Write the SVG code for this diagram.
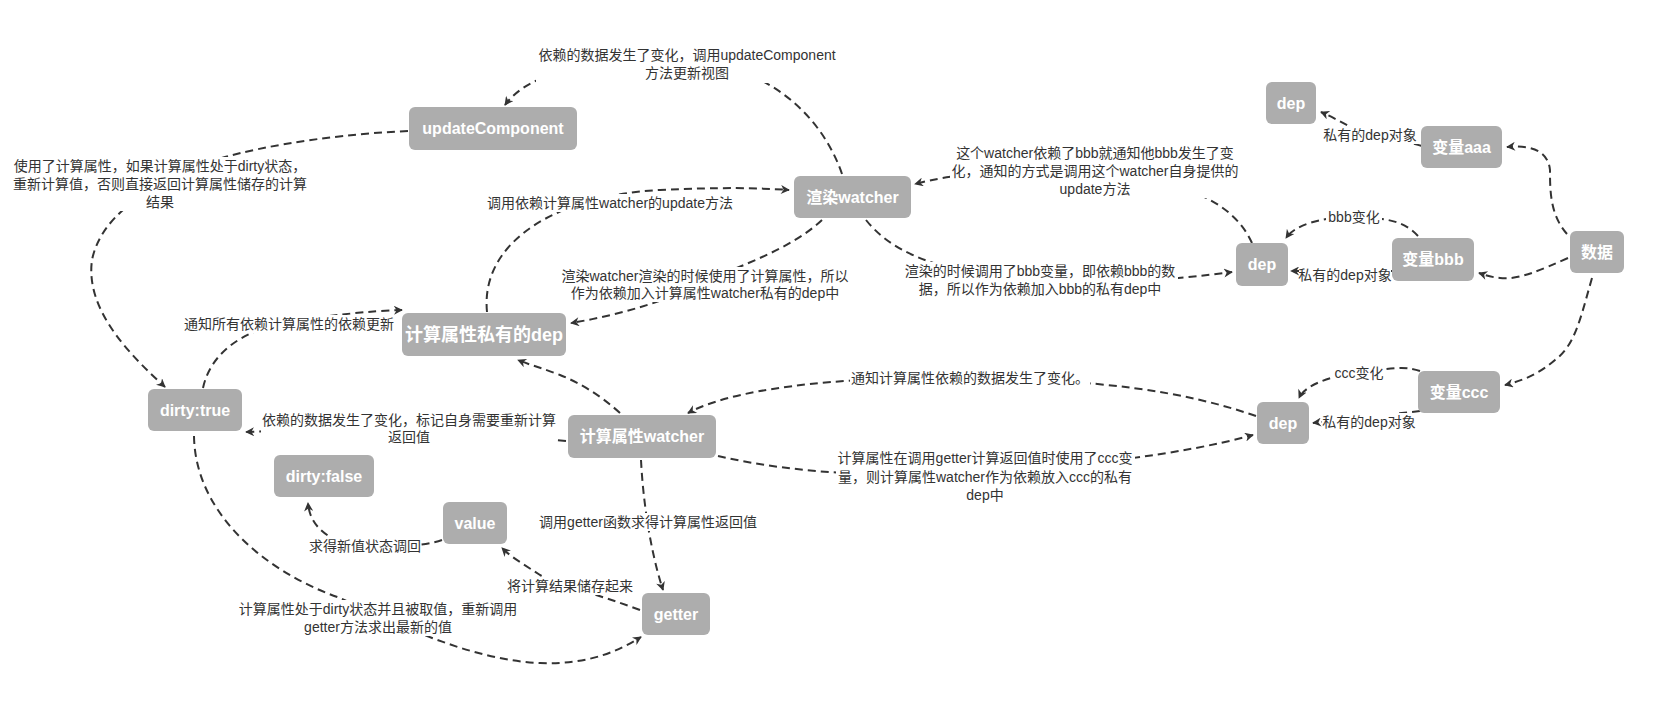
<svg xmlns="http://www.w3.org/2000/svg" width="1669" height="711" viewBox="0 0 1669 711">
<defs>
<marker id="arr" viewBox="0 0 10 10" refX="9" refY="5" markerWidth="10" markerHeight="9" markerUnits="userSpaceOnUse" orient="auto">
<path d="M0,0 L10,5 L0,10 L3,5 z" fill="#333"/>
</marker>
<style>
.n rect{fill:#adadad;}
.n text{fill:#fff;font-family:"Liberation Sans","Noto Sans CJK SC",sans-serif;font-weight:bold;font-size:16px;text-anchor:middle;}
.e path{fill:none;stroke:#333;stroke-width:2;stroke-dasharray:8 5;marker-end:url(#arr);}
.l rect{fill:#fff;}
.l text{fill:#333;font-family:"Liberation Sans","Noto Sans CJK SC",sans-serif;font-size:14px;text-anchor:middle;}
</style>
</defs>
<rect width="1669" height="711" fill="#fff"/>
<g id="connectors" class="e">
<path d="M842,174 C820,110 760,62 680,60 C600,58 530,70 505,105"/>
<path d="M487,312 C480,240 560,195 660,190 C720,187 760,188 789,190"/>
<path d="M822,220 C790,250 740,265 705,282 C670,300 620,315 571,323"/>
<path d="M1252,243 C1235,205 1190,180 1095,172 C1000,168 950,175 915,184"/>
<path d="M866,220 C890,250 930,268 1000,277 C1100,287 1170,280 1232,272"/>
<path d="M1567,234 C1550,215 1550,190 1550,170 C1548,150 1530,145 1507,147"/>
<path d="M1568,258 C1540,270 1520,280 1500,278 C1490,277 1485,275 1479,273"/>
<path d="M1418,236 C1405,222 1390,218 1355,217 C1320,217 1295,225 1286,238"/>
<path d="M1392,271 L1291,271"/>
<path d="M1422,146 C1400,140 1385,138 1370,135 C1350,128 1335,118 1321,112"/>
<path d="M1592,278 C1580,320 1575,345 1555,360 C1540,373 1525,380 1505,385"/>
<path d="M1420,371 C1405,366 1395,368 1360,372 C1330,376 1305,385 1299,398"/>
<path d="M1420,411 L1313,423"/>
<path d="M1256,416 C1180,390 1100,380 970,378 C830,376 730,390 688,413"/>
<path d="M718,456 C800,475 900,478 985,472 C1080,466 1180,455 1253,435"/>
<path d="M620,413 C600,395 580,383 560,375 C545,369 530,365 518,360"/>
<path d="M566,441 Q400,426 246,432"/>
<path d="M203,388 C210,355 240,330 290,322 C330,315 370,311 402,310"/>
<path d="M408,131 C320,135 240,150 200,165 C140,190 100,220 92,260 C85,310 130,355 165,387"/>
<path d="M194,436 C195,510 260,570 340,598 C400,625 470,660 540,663 C590,665 620,650 641,637"/>
<path d="M641,460 C643,500 650,550 663,590"/>
<path d="M640,610 C600,595 560,585 540,575 C525,565 512,558 502,548"/>
<path d="M442,540 C425,546 395,547 365,546 C335,545 310,530 308,503"/>
</g>
<g id="labels" class="l">
<rect x="536" y="45" width="302" height="38"/>
<text x="687" y="60">依赖的数据发生了变化，调用updateComponent</text>
<text x="687" y="78">方法更新视图</text>
<rect x="485" y="194" width="251" height="18"/>
<text x="610" y="208">调用依赖计算属性watcher的update方法</text>
<rect x="560" y="267" width="290" height="35"/>
<text x="705" y="281">渲染watcher渲染的时候使用了计算属性，所以</text>
<text x="705" y="298">作为依赖加入计算属性watcher私有的dep中</text>
<rect x="950" y="144" width="290" height="54"/>
<text x="1095" y="158">这个watcher依赖了bbb就通知他bbb发生了变</text>
<text x="1095" y="176">化，通知的方式是调用这个watcher自身提供的</text>
<text x="1095" y="194">update方法</text>
<rect x="902" y="262" width="276" height="36"/>
<text x="1040" y="276">渲染的时候调用了bbb变量，即依赖bbb的数</text>
<text x="1040" y="294">据，所以作为依赖加入bbb的私有dep中</text>
<rect x="1323" y="126" width="95" height="18"/>
<text x="1370" y="140">私有的dep对象</text>
<rect x="1326" y="208" width="56" height="18"/>
<text x="1354" y="222">bbb变化</text>
<rect x="1299" y="266" width="92" height="18"/>
<text x="1345" y="280">私有的dep对象</text>
<rect x="1332" y="364" width="54" height="18"/>
<text x="1359" y="378">ccc变化</text>
<rect x="1322" y="413" width="94" height="18"/>
<text x="1369" y="427">私有的dep对象</text>
<rect x="850" y="369" width="240" height="18"/>
<text x="970" y="383">通知计算属性依赖的数据发生了变化。</text>
<rect x="836" y="449" width="299" height="55"/>
<text x="985" y="463">计算属性在调用getter计算返回值时使用了ccc变</text>
<text x="985" y="482">量，则计算属性watcher作为依赖放入ccc的私有</text>
<text x="985" y="500">dep中</text>
<rect x="261" y="411" width="296" height="35"/>
<text x="409" y="425">依赖的数据发生了变化，标记自身需要重新计算</text>
<text x="409" y="442">返回值</text>
<rect x="183" y="315" width="212" height="18"/>
<text x="289" y="329">通知所有依赖计算属性的依赖更新</text>
<rect x="12" y="157" width="296" height="54"/>
<text x="160" y="171">使用了计算属性，如果计算属性处于dirty状态，</text>
<text x="160" y="189">重新计算值，否则直接返回计算属性储存的计算</text>
<text x="160" y="207">结果</text>
<rect x="237" y="600" width="282" height="36"/>
<text x="378" y="614">计算属性处于dirty状态并且被取值，重新调用</text>
<text x="378" y="632">getter方法求出最新的值</text>
<rect x="538" y="513" width="220" height="18"/>
<text x="648" y="527">调用getter函数求得计算属性返回值</text>
<rect x="507" y="577" width="126" height="18"/>
<text x="570" y="591">将计算结果储存起来</text>
<rect x="309" y="537" width="112" height="18"/>
<text x="365" y="551">求得新值状态调回</text>
</g>
<g id="n-updateComponent" class="n"><rect x="409" y="107" width="168" height="43" rx="6"/><text x="493" y="134">updateComponent</text></g>
<g id="n-render-watcher" class="n"><rect x="794" y="176" width="117" height="42" rx="6"/><text x="852.5" y="203">渲染watcher</text></g>
<g id="n-computed-dep" class="n"><rect x="402" y="313" width="164" height="43" rx="6"/><text x="484" y="341" style="font-size:18px">计算属性私有的dep</text></g>
<g id="n-dirty-true" class="n"><rect x="148" y="389" width="94" height="42" rx="6"/><text x="195" y="416">dirty:true</text></g>
<g id="n-computed-watcher" class="n"><rect x="568" y="415" width="148" height="43" rx="6"/><text x="642" y="442">计算属性watcher</text></g>
<g id="n-dirty-false" class="n"><rect x="274" y="455" width="100" height="42" rx="6"/><text x="324" y="482">dirty:false</text></g>
<g id="n-value" class="n"><rect x="443" y="502" width="64" height="42" rx="6"/><text x="475" y="529">value</text></g>
<g id="n-getter" class="n"><rect x="642" y="593" width="68" height="42" rx="6"/><text x="676" y="620">getter</text></g>
<g id="n-dep-bbb" class="n"><rect x="1236" y="243" width="52" height="43" rx="6"/><text x="1262" y="270">dep</text></g>
<g id="n-var-bbb" class="n"><rect x="1392" y="238" width="82" height="43" rx="6"/><text x="1433" y="265">变量bbb</text></g>
<g id="n-data" class="n"><rect x="1570" y="231" width="54" height="42" rx="6"/><text x="1597" y="258">数据</text></g>
<g id="n-var-aaa" class="n"><rect x="1421" y="126" width="81" height="42" rx="6"/><text x="1461.5" y="153">变量aaa</text></g>
<g id="n-dep-aaa" class="n"><rect x="1266" y="82" width="50" height="42" rx="6"/><text x="1291" y="109">dep</text></g>
<g id="n-var-ccc" class="n"><rect x="1418" y="371" width="82" height="42" rx="6"/><text x="1459" y="398">变量ccc</text></g>
<g id="n-dep-ccc" class="n"><rect x="1257" y="402" width="52" height="42" rx="6"/><text x="1283" y="429">dep</text></g>
</svg>
